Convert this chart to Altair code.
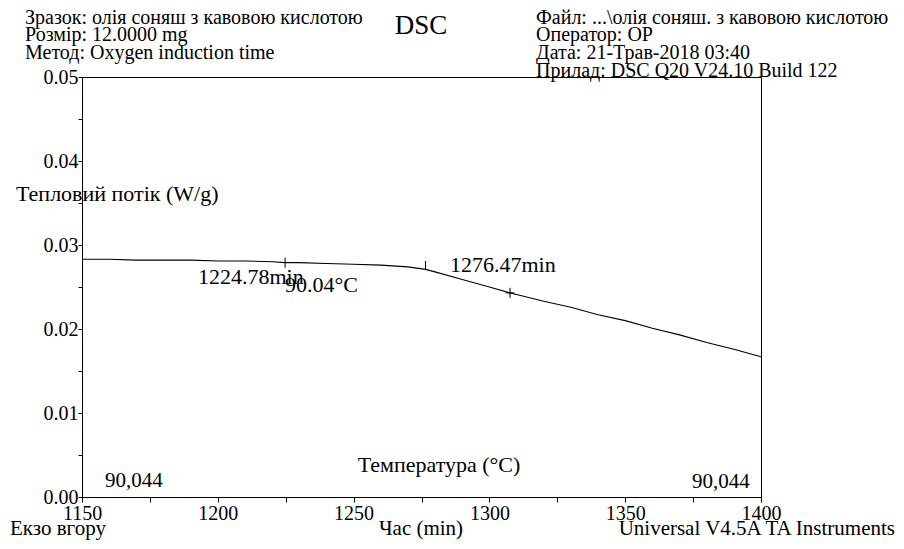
import altair as alt
import pandas as pd

# ---- data ----
time_min = [1150, 1160, 1170, 1180, 1190, 1200, 1210, 1220, 1224.78, 1230, 1240, 1250,
            1260, 1270, 1276.47, 1280, 1290, 1300, 1307.6, 1310, 1320, 1330, 1340, 1350,
            1360, 1370, 1380, 1390, 1400]
heat_flow = [0.0283, 0.0283, 0.0282, 0.0282, 0.0282, 0.0281, 0.0281, 0.0280, 0.0279, 0.0279,
             0.0278, 0.0277, 0.0276, 0.0274, 0.0271, 0.0268, 0.0259, 0.0250, 0.0243, 0.0241,
             0.0233, 0.0226, 0.0217, 0.0210, 0.0201, 0.0193, 0.0184, 0.0176, 0.0167]

marker_t = [1224.78, 1276.47, 1307.6]
marker_lo = [0.0273, 0.0271, 0.0237]
marker_hi = [0.0285, 0.0281, 0.0249]

cross_t1 = [1306.0]
cross_t2 = [1309.2]
cross_v = [0.0243]

y_ticks = [round(i * 0.0025, 4) for i in range(21)]
x_ticks = [1150 + 12.5 * i for i in range(21)]

FONT = "Liberation Serif, Times New Roman, serif"

# annotation texts (pixel positions relative to the plot area)
ann_left_text = ["Зразок:  олія соняш з кавовою кислотою", "Розмір:   12.0000 mg",
                 "Метод:  Oxygen induction time", "Файл:  ...\\олія соняш. з кавовою кислотою",
                 "Оператор:  OP", "Дата:   21-Трав-2018 03:40", "Прилад:  DSC Q20 V24.10 Build 122",
                 "Тепловий потік (W/g)", "1224.78min", "90.04°C", "1276.47min",
                 "90,044", "90,044", "Екзо вгору"]
ann_left_x = [-57, -57, -57, 454, 454, 454, 454, -66, 116, 203, 368, 23, 610, -72]
ann_left_y = [-59, -42, -24, -59, -42, -24, -6, 117, 200, 208, 188, 404, 405, 452]
ann_left_size = [20, 20, 20, 20, 20, 20, 20, 22, 22, 22, 22, 21, 21, 21]

ann_c_text = ["DSC", "Температура (°C)", "Час (min)"]
ann_c_x = [339, 357, 339]
ann_c_y = [-51, 388, 452]
ann_c_size = [27, 22, 21]

ann_r_text = ["Universal V4.5A TA Instruments"]
ann_r_x = [813]
ann_r_y = [452]
ann_r_size = [21]

# ---- chart ----
curve = pd.DataFrame({"t": time_min, "v": heat_flow})
marks = pd.DataFrame({"t": marker_t, "lo": marker_lo, "hi": marker_hi})
cross = pd.DataFrame({"t1": cross_t1, "t2": cross_t2, "v": cross_v})

x_label = "abs(datum.value/50 - round(datum.value/50)) < 0.001 ? format(datum.value, 'd') : ''"
y_label = "abs(datum.value*100 - round(datum.value*100)) < 0.001 ? format(datum.value, '.2f') : ''"

xscale = alt.Scale(domain=[1150, 1400], nice=False, zero=False)
yscale = alt.Scale(domain=[0, 0.05], nice=False, zero=False)

line = alt.Chart(curve).mark_line(color="black", strokeWidth=1.1).encode(
    x=alt.X("t:Q", scale=xscale, title=None,
            axis=alt.Axis(values=x_ticks, labelExpr=x_label, tickSize=5, labelPadding=1,
                          grid=False, labelFlush=False, labelOverlap=False)),
    y=alt.Y("v:Q", scale=yscale, title=None,
            axis=alt.Axis(values=y_ticks, labelExpr=y_label, tickSize=4, labelPadding=0,
                          grid=False, labelFlush=False, labelOverlap=False)),
)

rules = alt.Chart(marks).mark_rule(color="black", strokeWidth=1).encode(
    x="t:Q", y="lo:Q", y2="hi:Q")

cross_h = alt.Chart(cross).mark_rule(color="black", strokeWidth=1).encode(
    x="t1:Q", x2="t2:Q", y="v:Q")

def text_layer(texts, xs, ys, sizes, align):
    df = pd.DataFrame({"txt": texts, "px": xs, "py": ys, "fs": sizes})
    return alt.Chart(df).mark_text(align=align, baseline="middle", font=FONT, color="black").encode(
        x=alt.X("px:Q", scale=None),
        y=alt.Y("py:Q", scale=None),
        text="txt:N",
        size=alt.Size("fs:Q", scale=None, legend=None),
    )

t_left = text_layer(ann_left_text, ann_left_x, ann_left_y, ann_left_size, "left")
t_center = text_layer(ann_c_text, ann_c_x, ann_c_y, ann_c_size, "center")
t_right = text_layer(ann_r_text, ann_r_x, ann_r_y, ann_r_size, "right")

chart = alt.layer(line, rules, cross_h, t_left, t_center, t_right).resolve_scale(
    x="shared", y="shared"
).properties(
    width=679, height=420,
    autosize=alt.AutoSizeParams(type="none"),
    padding={"left": 74, "top": 69, "right": 135, "bottom": 44},
    background="white",
).configure_view(
    stroke="black", strokeWidth=1
).configure_axis(
    domainColor="black", tickColor="black", labelColor="black",
    labelFont=FONT, labelFontSize=20, domainWidth=1, tickWidth=1,
)

chart.save("out.html", embed_options={"renderer": "svg", "actions": False})
